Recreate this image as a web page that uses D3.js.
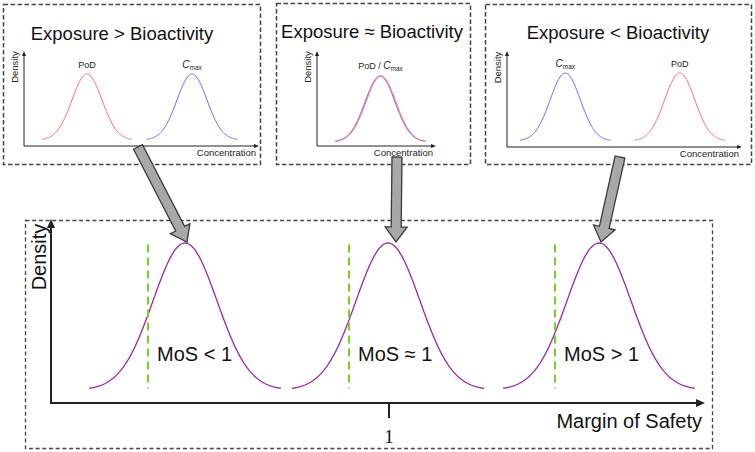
<!DOCTYPE html>
<html><head><meta charset="utf-8">
<script src="https://cdn.jsdelivr.net/npm/d3@7"></script>
<style>body{margin:0;background:#fff}svg{display:block}text{font-family:Arial,"Liberation Sans",sans-serif}</style>
</head><body><svg id="c" width="755" height="452"></svg>
<script>
// ---- data ----
const panelTitles = ["Exposure > Bioactivity", "Exposure \u2248 Bioactivity", "Exposure < Bioactivity"];
// curves in each top panel: [panel, series, mean (concentration units), sd]
const topCurves = [
  {panel:0, series:"PoD",  mean:6.3,  sd:1.5},
  {panel:0, series:"Cmax", mean:16.8, sd:1.5},
  {panel:1, series:"Cmax", mean:6.3,  sd:1.5},
  {panel:1, series:"PoD",  mean:6.4,  sd:1.5},
  {panel:2, series:"Cmax", mean:5.8,  sd:1.5},
  {panel:2, series:"PoD",  mean:17.2, sd:1.5}
];
const topLabels = [
  {panel:0, text:"PoD", at:6.3}, {panel:0, text:"Cmax", at:16.8},
  {panel:1, text:"PoD / Cmax", at:6.35},
  {panel:2, text:"Cmax", at:5.8}, {panel:2, text:"PoD", at:17.2}
];
const panelDomains = [23.4, 11.8, 23.3];
// bottom panel: log10(MoS) units
const mosCurves = [
  {label:"MoS < 1",       mean:-2.04, sd:0.32, ref:-2.41},
  {label:"MoS \u2248 1",  mean:-0.01, sd:0.32, ref:-0.40},
  {label:"MoS > 1",       mean:2.10,  sd:0.32, ref:1.66}
];
const mosTicks = [0];
const mosTickLabels = ["1"];

// ---- layout ----
const svg = d3.select("#c");
const colors = {PoD:"#ff6b6b", Cmax:"#6b6bff"};
const panels = [
  {box:[3,4,257,160], ax:{x0:24, x1:258, yTop:52, yBot:146}, curveTop:74, curveBase:140, titleX:122, titleY:40, labelY:68},
  {box:[276,3,194,161], ax:{x0:317, x1:435, yTop:52, yBot:146}, curveTop:76, curveBase:142, titleX:372, titleY:38, labelY:69},
  {box:[485,4,266,160], ax:{x0:507, x1:741, yTop:52, yBot:147}, curveTop:73, curveBase:141, titleX:618, titleY:39, labelY:67}
];
const dens = (x, m, s) => Math.exp(-0.5*((x-m)/s)**2);

function arrowHead(g, x, y, dir, size, col){
  const s = size;
  const p = dir==="up" ? [[x,y-1],[x-s*0.5,y+s],[x+s*0.5,y+s]] : [[x+1,y],[x-s,y-s*0.5],[x-s,y+s*0.5]];
  g.append("path").attr("d", d3.line()(p)+"Z").attr("fill", col);
}

panels.forEach((P,i)=>{
  const g = svg.append("g");
  g.append("rect").attr("x",P.box[0]+0.5).attr("y",P.box[1]+0.5).attr("width",P.box[2]).attr("height",P.box[3])
    .attr("fill","none").attr("stroke","#444").attr("stroke-width",1.5).attr("stroke-dasharray","4.5,2.5");
  g.append("text").attr("x",P.titleX).attr("y",P.titleY).attr("text-anchor","middle")
    .attr("font-size",18.5).attr("fill","#111").text(panelTitles[i]);
  const x = d3.scaleLinear().domain([0,panelDomains[i]]).range([P.ax.x0, P.ax.x1]);
  const y = d3.scaleLinear().domain([0,1]).range([P.curveBase, P.curveTop]);
  g.append("line").attr("x1",P.ax.x0).attr("x2",P.ax.x0).attr("y1",P.ax.yBot).attr("y2",P.ax.yTop+3).attr("stroke","#222").attr("stroke-width",1);
  g.append("line").attr("x1",P.ax.x0).attr("x2",P.ax.x1-3).attr("y1",P.ax.yBot).attr("y2",P.ax.yBot).attr("stroke","#222").attr("stroke-width",1);
  arrowHead(g, P.ax.x0, P.ax.yTop, "up", 4, "#222");
  arrowHead(g, P.ax.x1, P.ax.yBot, "right", 4, "#222");
  g.append("text").attr("transform",`translate(${P.ax.x0-6},${(P.ax.yTop+P.ax.yBot)/2-32}) rotate(-90)`)
    .attr("text-anchor","middle").attr("font-size",9.5).attr("fill","#222").text("Density");
  g.append("text").attr("x",P.ax.x1-2).attr("y",P.ax.yBot+10).attr("text-anchor","end")
    .attr("font-size",9.5).attr("fill","#222").text("Concentration");
  topCurves.filter(c=>c.panel===i).forEach(c=>{
    const xs = d3.range(c.mean-3*c.sd, c.mean+3*c.sd+1e-9, c.sd/20);
    g.append("path").attr("d", d3.line().x(v=>x(v)).y(v=>y(dens(v,c.mean,c.sd)))(xs))
      .attr("fill","none").attr("stroke",colors[c.series]).attr("stroke-width",1);
  });
  topLabels.filter(l=>l.panel===i).forEach(l=>{
    const t = g.append("text").attr("x",x(l.at)).attr("y",P.labelY).attr("text-anchor","middle")
      .attr("font-size",9).attr("fill","#222");
    const parts = l.text.split("Cmax");
    parts.forEach((p,k)=>{
      if(p) t.append("tspan").text(p);
      if(k<parts.length-1){
        t.append("tspan").attr("font-style","italic").attr("font-size",10).text("C");
        t.append("tspan").attr("font-size",6.5).attr("dy",2).text("max");
        t.append("tspan").attr("dy",-2).text("");
      }
    });
  });
});

// ---- bottom panel ----
const B = svg.append("g");
B.append("rect").attr("x",25.5).attr("y",220.5).attr("width",687).attr("height",228)
  .attr("fill","none").attr("stroke","#444").attr("stroke-width",1.3).attr("stroke-dasharray","4,2.7");
const xM = d3.scaleLinear().domain([-3.38,3.14]).range([51,703]);
const yM = d3.scaleLinear().domain([0,1]).range([390,243]);
B.append("line").attr("x1",51).attr("x2",51).attr("y1",404).attr("y2",227).attr("stroke","#222").attr("stroke-width",2);
B.append("line").attr("x1",50).attr("x2",696).attr("y1",403).attr("y2",403).attr("stroke","#222").attr("stroke-width",2);
arrowHead(B, 51, 220, "up", 8, "#222");
arrowHead(B, 704, 403, "right", 8, "#222");
B.append("text").attr("transform","translate(46,257) rotate(-90)").attr("text-anchor","middle")
  .attr("font-size",20).attr("fill","#111").text("Density");
B.append("text").attr("x",702).attr("y",428).attr("text-anchor","end")
  .attr("font-size",20).attr("fill","#111").text("Margin of Safety");
mosTicks.forEach((t,k)=>{
  B.append("line").attr("x1",xM(t)).attr("x2",xM(t)).attr("y1",403).attr("y2",418).attr("stroke","#222").attr("stroke-width",2);
  B.append("text").attr("x",xM(t)).attr("y",443).attr("text-anchor","middle")
    .style("font-family","'Liberation Serif','Times New Roman',serif").attr("font-size",19).attr("fill","#111").text(mosTickLabels[k]);
});
mosCurves.forEach(c=>{
  const xs = d3.range(c.mean-3*c.sd, c.mean+3*c.sd+1e-9, c.sd/30);
  B.append("path").attr("d", d3.line().x(v=>xM(v)).y(v=>yM(dens(v,c.mean,c.sd)))(xs))
    .attr("fill","none").attr("stroke","#9a2a9e").attr("stroke-width",1.3);
  B.append("line").attr("x1",xM(c.ref)).attr("x2",xM(c.ref)).attr("y1",yM(0.99)).attr("y2",yM(0.01))
    .attr("stroke","#7ccc3a").attr("stroke-width",2.2).attr("stroke-dasharray","8,5");
  B.append("text").attr("x",xM(c.ref)+9).attr("y",361).attr("font-size",20).attr("fill","#111").text(c.label);
});

// ---- connecting arrows (top panel -> peak of bottom curve) ----
const arrowStarts = [[138,147],[397,157],[620,157]];
mosCurves.forEach((c,k)=>{
  const [sx,sy] = arrowStarts[k];
  const ex = xM(c.mean) + (k===1?8:2), ey = yM(1)-1;
  const dx = ex-sx, dy = ey-sy, L = Math.hypot(dx,dy);
  const ux = dx/L, uy = dy/L, nx = -uy, ny = ux;
  const hw = 5, HW = 11, HL = 15;
  const bx = ex-ux*HL, by = ey-uy*HL;
  const pts = [
    [sx+nx*hw, sy+ny*hw],[bx+nx*hw, by+ny*hw],[bx+nx*HW, by+ny*HW],[ex,ey],
    [bx-nx*HW, by-ny*HW],[bx-nx*hw, by-ny*hw],[sx-nx*hw, sy-ny*hw]
  ];
  svg.append("path").attr("d", d3.line()(pts)+"Z").attr("fill","#a8a8a8").attr("stroke","#3a3a3a").attr("stroke-width",1.3).attr("stroke-linejoin","miter");
});
</script></body></html>
